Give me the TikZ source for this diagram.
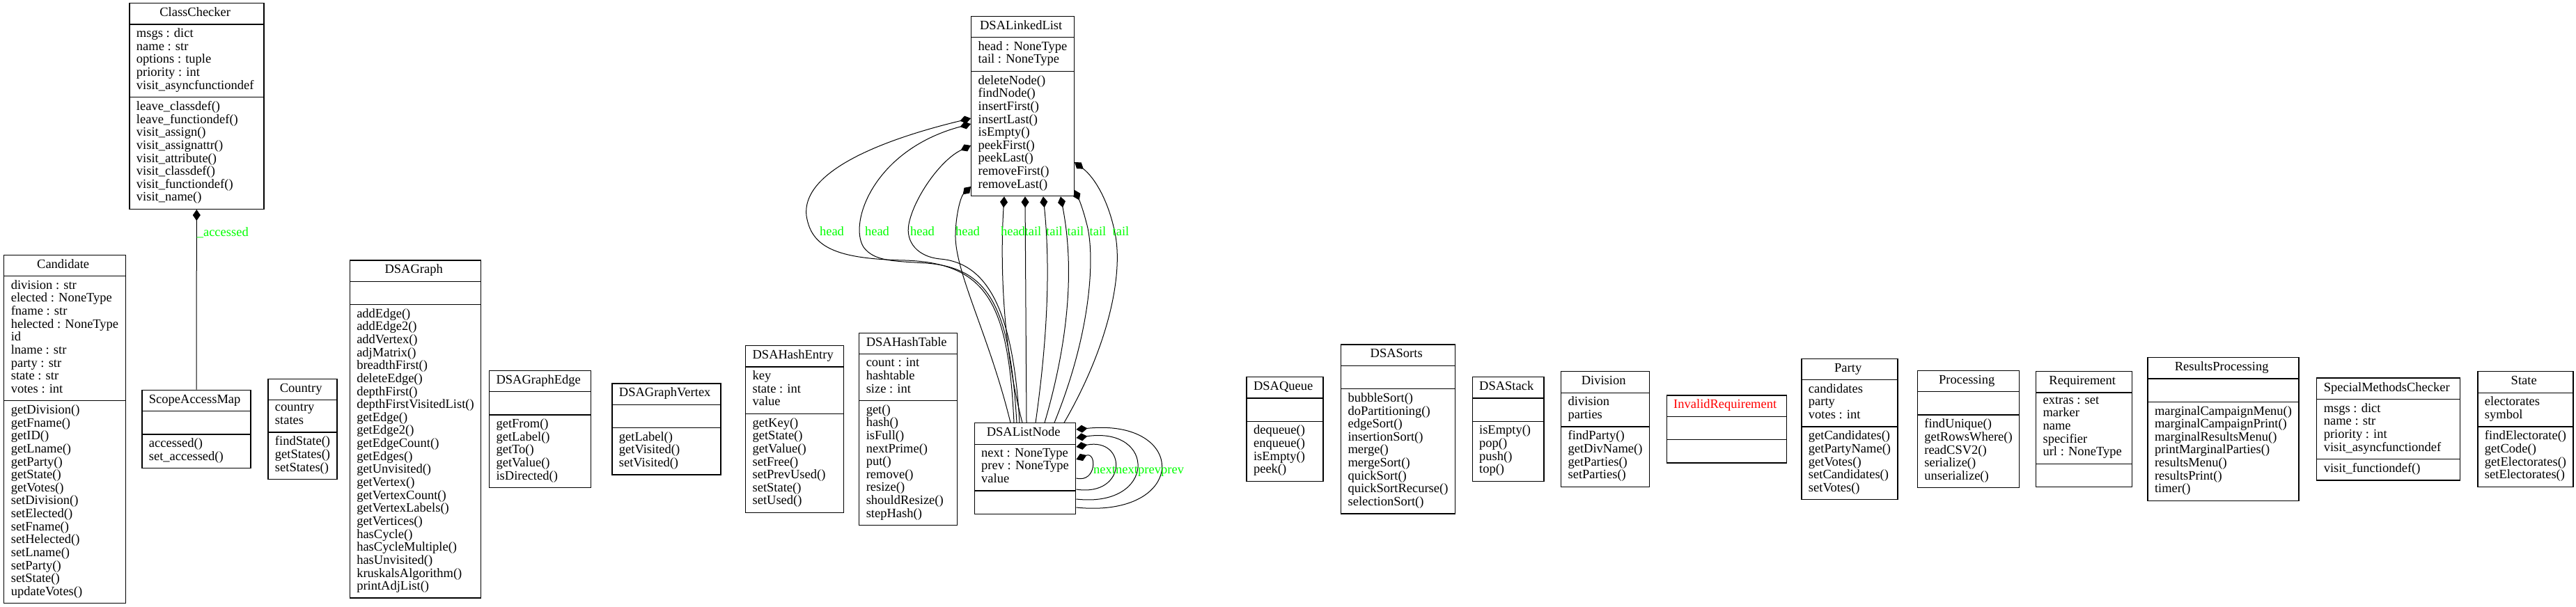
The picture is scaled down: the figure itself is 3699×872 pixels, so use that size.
\documentclass[tikz,border=0pt]{standalone}
\usepackage{fontspec}
\setmainfont{Liberation Serif}
\usetikzlibrary{arrows.meta,shapes.multipart}
\definecolor{rolegreen}{HTML}{00FF00}
\definecolor{errred}{HTML}{FF0000}
\newcommand{\umlfont}{\fontsize{18.5pt}{18.64pt}\selectfont}
\newcommand{\nomembers}{\rule[-8pt]{0pt}{21.6pt}}
\tikzset{
  umlclass/.style={draw=black,line width=1.3pt,rectangle split,rectangle split parts=3,
    rectangle split part align={center,left,left},align=left,font=\umlfont,
    inner xsep=10pt,inner ysep=5.2pt,execute at begin node=\strut,execute at end node=\strut},
  composition/.style={-{Diamond[length=16pt,width=11pt]},draw=black,line width=1pt},
  rolelabel/.style={font=\umlfont,text=rolegreen,inner sep=0pt}
}
\begin{document}
\begin{tikzpicture}[x=1pt,y=-1pt]
  \useasboundingbox (0,0) rectangle (3699,872);
  \node[umlclass] (classchecker) at (282.5,152.5) {ClassChecker
    \nodepart{second}msgs : dict\\name : str\\options : tuple\\priority : int\\visit\_asyncfunctiondef
    \nodepart{third}leave\_classdef()\\leave\_functiondef()\\visit\_assign()\\visit\_assignattr()\\visit\_attribute()\\visit\_classdef()\\visit\_functiondef()\\visit\_name()};
  \node[umlclass] (dsalinkedlist) at (1468.5,152.5) {DSALinkedList
    \nodepart{second}head : NoneType\\tail : NoneType
    \nodepart{third}deleteNode()\\findNode()\\insertFirst()\\insertLast()\\isEmpty()\\peekFirst()\\peekLast()\\removeFirst()\\removeLast()};
  \node[umlclass] (candidate) at (93,616.5) {Candidate
    \nodepart{second}division : str\\elected : NoneType\\fname : str\\helected : NoneType\\id\\lname : str\\party : str\\state : str\\votes : int
    \nodepart{third}getDivision()\\getFname()\\getID()\\getLname()\\getParty()\\getState()\\getVotes()\\setDivision()\\setElected()\\setFname()\\setHelected()\\setLname()\\setParty()\\setState()\\updateVotes()};
  \node[umlclass] (scopeaccessmap) at (282,616.5) {ScopeAccessMap
    \nodepart{second}\nomembers
    \nodepart{third}accessed()\\set\_accessed()};
  \node[umlclass] (country) at (434.5,616.5) {Country
    \nodepart{second}country\\states
    \nodepart{third}findState()\\getStates()\\setStates()};
  \node[umlclass] (dsagraph) at (596.5,616.5) {DSAGraph
    \nodepart{second}\nomembers
    \nodepart{third}addEdge()\\addEdge2()\\addVertex()\\adjMatrix()\\breadthFirst()\\deleteEdge()\\depthFirst()\\depthFirstVisitedList()\\getEdge()\\getEdge2()\\getEdgeCount()\\getEdges()\\getUnvisited()\\getVertex()\\getVertexCount()\\getVertexLabels()\\getVertices()\\hasCycle()\\hasCycleMultiple()\\hasUnvisited()\\kruskalsAlgorithm()\\printAdjList()};
  \node[umlclass] (dsagraphedge) at (775.5,616.5) {DSAGraphEdge
    \nodepart{second}\nomembers
    \nodepart{third}getFrom()\\getLabel()\\getTo()\\getValue()\\isDirected()};
  \node[umlclass] (dsagraphvertex) at (957,616.5) {DSAGraphVertex
    \nodepart{second}\nomembers
    \nodepart{third}getLabel()\\getVisited()\\setVisited()};
  \node[umlclass] (dsahashentry) at (1141,616.5) {DSAHashEntry
    \nodepart{second}key\\state : int\\value
    \nodepart{third}getKey()\\getState()\\getValue()\\setFree()\\setPrevUsed()\\setState()\\setUsed()};
  \node[umlclass] (dsahashtable) at (1304,616.5) {DSAHashTable
    \nodepart{second}count : int\\hashtable\\size : int
    \nodepart{third}get()\\hash()\\isFull()\\nextPrime()\\put()\\remove()\\resize()\\shouldResize()\\stepHash()};
  \node[umlclass] (dsalistnode) at (1472,673) {DSAListNode
    \nodepart{second}next : NoneType\\prev : NoneType\\value
    \nodepart{third}\nomembers};
  \node[umlclass] (dsaqueue) at (1845,616.5) {DSAQueue
    \nodepart{second}\nomembers
    \nodepart{third}dequeue()\\enqueue()\\isEmpty()\\peek()};
  \node[umlclass] (dsasorts) at (2007.5,616.5) {DSASorts
    \nodepart{second}\nomembers
    \nodepart{third}bubbleSort()\\doPartitioning()\\edgeSort()\\insertionSort()\\merge()\\mergeSort()\\quickSort()\\quickSortRecurse()\\selectionSort()};
  \node[umlclass] (dsastack) at (2165.5,616.5) {DSAStack
    \nodepart{second}\nomembers
    \nodepart{third}isEmpty()\\pop()\\push()\\top()};
  \node[umlclass] (division) at (2305,616.5) {Division
    \nodepart{second}division\\parties
    \nodepart{third}findParty()\\getDivName()\\getParties()\\setParties()};
  \node[umlclass] (invalidrequirement) at (2479.5,616.5) {\textcolor{errred}{InvalidRequirement}
    \nodepart{second}\nomembers
    \nodepart{third}\nomembers};
  \node[umlclass] (party) at (2656,616.5) {Party
    \nodepart{second}candidates\\party\\votes : int
    \nodepart{third}getCandidates()\\getPartyName()\\getVotes()\\setCandidates()\\setVotes()};
  \node[umlclass] (processing) at (2826.5,616.5) {Processing
    \nodepart{second}\nomembers
    \nodepart{third}findUnique()\\getRowsWhere()\\readCSV2()\\serialize()\\unserialize()};
  \node[umlclass] (requirement) at (2992.5,616.5) {Requirement
    \nodepart{second}extras : set\\marker\\name\\specifier\\url : NoneType
    \nodepart{third}\nomembers};
  \node[umlclass] (resultsprocessing) at (3192.5,616.5) {ResultsProcessing
    \nodepart{second}\nomembers
    \nodepart{third}marginalCampaignMenu()\\marginalCampaignPrint()\\marginalResultsMenu()\\printMarginalParties()\\resultsMenu()\\resultsPrint()\\timer()};
  \node[umlclass] (specialmethodschecker) at (3429.5,616.5) {SpecialMethodsChecker
    \nodepart{second}msgs : dict\\name : str\\priority : int\\visit\_asyncfunctiondef
    \nodepart{third}visit\_functiondef()};
  \node[umlclass] (state) at (3626.5,616.5) {State
    \nodepart{second}electorates\\symbol
    \nodepart{third}findElectorate()\\getCode()\\getElectorates()\\setElectorates()};

  \draw[composition] (scopeaccessmap) -- node[rolelabel,pos=0.87,anchor=west] {\_accessed} (classchecker);

  \draw[composition] (1456,0 |- dsalistnode.north) .. controls (1448,440) and (1420,378) .. (1300,374)
    .. controls (1200,372) and (1165,355) .. (1158,310) .. controls (1150,240) and (1290,195) .. (dsalinkedlist.west |- 0,170);
  \draw[composition] (1460,0 |- dsalistnode.north) .. controls (1450,440) and (1420,385) .. (1330,378)
    .. controls (1280,375) and (1255,375) .. (1240,355) .. controls (1218,320) and (1255,215) .. (dsalinkedlist.west |- 0,178);
  \draw[composition] (1464,0 |- dsalistnode.north) .. controls (1455,450) and (1420,378) .. (1350,372)
    .. controls (1318,369) and (1300,348) .. (1305,322) .. controls (1312,285) and (1350,230) .. (dsalinkedlist.west |- 0,209);
  \draw[composition] (1451,0 |- dsalistnode.north) .. controls (1420,480) and (1370,390) .. (1372,335)
    .. controls (1373,305) and (1380,282) .. (dsalinkedlist.west |- 0,268);
  \draw[composition] (1468,0 |- dsalistnode.north) .. controls (1440,500) and (1436,380) .. (1442,0 |- dsalinkedlist.south);
  \draw[composition] (1474,0 |- dsalistnode.north) -- (1472,0 |- dsalinkedlist.south);
  \draw[composition] (1487,0 |- dsalistnode.north) .. controls (1505,480) and (1508,380) .. (1498,0 |- dsalinkedlist.south);
  \draw[composition] (1500,0 |- dsalistnode.north) .. controls (1540,470) and (1540,370) .. (1523,0 |- dsalinkedlist.south);
  \draw[composition] (1514,0 |- dsalistnode.north) .. controls (1570,470) and (1572,360) .. (1560,320)
    .. controls (1555,300) and (1550,288) .. (dsalinkedlist.east |- 0,273);
  \draw[composition] (1528,0 |- dsalistnode.north) .. controls (1590,500) and (1612,400) .. (1602,340)
    .. controls (1593,290) and (1572,255) .. (dsalinkedlist.east |- 0,233);
  \node[rolelabel,anchor=base] (headlabela) at (1194.5,338) {head};
  \node[rolelabel,anchor=base] (headlabelb) at (1259.5,338) {head};
  \node[rolelabel,anchor=base] (headlabelc) at (1324.5,338) {head};
  \node[rolelabel,anchor=base] (headlabeld) at (1389.5,338) {head};
  \node[rolelabel,anchor=base] (headlabele) at (1454.5,338) {head};
  \node[rolelabel,anchor=base] (taillabela) at (1483.5,338) {tail};
  \node[rolelabel,anchor=base] (taillabelb) at (1514,338) {tail};
  \node[rolelabel,anchor=base] (taillabelc) at (1544.5,338) {tail};
  \node[rolelabel,anchor=base] (taillabeld) at (1576.5,338) {tail};
  \node[rolelabel,anchor=base] (taillabele) at (1609.5,338) {tail};

  \draw[composition] (dsalistnode.east |- 0,729) .. controls (1707,745) and (1707,600) .. (dsalistnode.east |- 0,617);
  \draw[composition] (dsalistnode.east |- 0,717) .. controls (1661,730) and (1661,612) .. (dsalistnode.east |- 0,629);
  \draw[composition] (dsalistnode.east |- 0,703) .. controls (1619,714) and (1619,628) .. (dsalistnode.east |- 0,642);
  \draw[composition] (dsalistnode.east |- 0,687) .. controls (1575,694) and (1575,648) .. (dsalistnode.east |- 0,660);
  \node[rolelabel,anchor=base west] (nextlabela) at (1570,680) {next};
  \node[rolelabel,anchor=base west] (nextlabelb) at (1602,680) {next};
  \node[rolelabel,anchor=base west] (prevlabela) at (1634,680) {prev};
  \node[rolelabel,anchor=base west] (prevlabelb) at (1667,680) {prev};
\end{tikzpicture}
\end{document}
